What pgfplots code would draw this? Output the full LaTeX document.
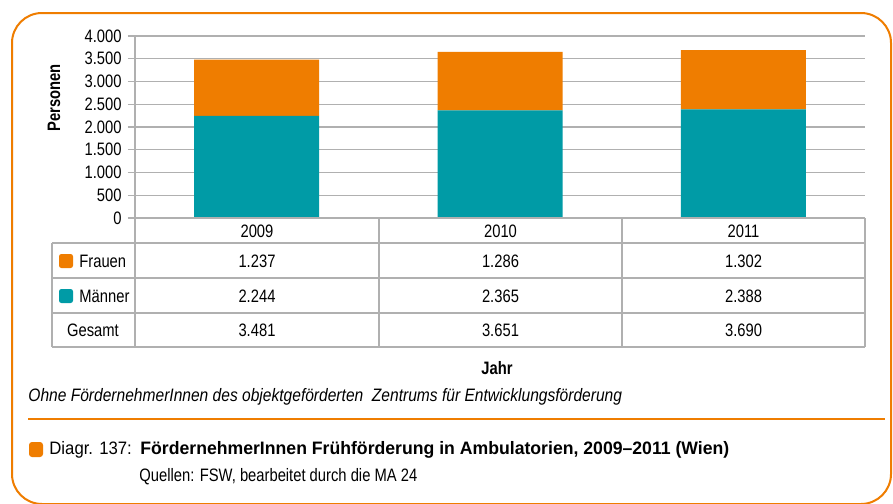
\documentclass[border=0pt]{standalone}
\usepackage{fontspec}
\setmainfont[FakeStretch=0.82,ItalicFeatures={FakeStretch=0.865}]{Liberation Sans}
\newfontfamily\titlefont[FakeStretch=0.98,Ligatures=TeX]{Liberation Sans}
\newfontfamily\diagfont[FakeStretch=0.93,Ligatures=TeX]{Liberation Sans}
\usepackage{pgfplots}
\pgfplotsset{compat=1.18}
\definecolor{orng}{RGB}{239,125,0}
\definecolor{teal2}{RGB}{0,155,166}
\definecolor{gridg}{RGB}{176,176,176}
\begin{document}
\fontsize{9}{10.5}\selectfont
\begin{tikzpicture}
\clip (0,0) rectangle (446.5pt,-251.5pt);
\fill[white] (0,0) rectangle (446.5pt,-251.5pt);
\begin{scope}[x=0.5pt,y=-0.5pt]
\draw[orng,line width=1pt,rounded corners=15pt] (12,13) rectangle (891,504);
\end{scope}
\begin{axis}[
  at={(67.5pt,-109pt)}, anchor=south west,
  scale only axis, width=365pt, height=91pt,
  xmin=-0.5, xmax=2.5, ymin=0, ymax=4000,
  ybar stacked, bar width=62.5pt,
  axis x line=bottom, axis y line=left,
  axis line style={draw=gridg,line width=0.6pt,-},
  xtick=\empty,
  ytick={0,500,...,4000},
  tick align=outside, major tick length=3.5pt,
  ytick style={draw=gridg,line width=0.6pt},
  ymajorgrids, grid style={draw=gridg,line width=0.6pt},
  /pgf/number format/.cd, 1000 sep={.}, assume math mode=true,
  /pgfplots/.cd,
  yticklabel style={font=\fontsize{9}{10}\selectfont},
  clip=false,
]
\addplot[fill=teal2,draw=none] coordinates {(0,2244) (1,2365) (2,2388)};
\addplot[fill=orng,draw=none] coordinates {(0,1237) (1,1286) (2,1302)};
\end{axis}
\begin{scope}[x=0.5pt,y=-0.5pt]
\node[rotate=90,font=\bfseries] at (54,98) {Personen};
% table lines
\begin{scope}[draw=gridg,line width=0.6pt]
\draw (135,218) -- (865,218);
\draw (52,243) -- (865,243);
\draw (52,278) -- (865,278);
\draw (52,313) -- (865,313);
\draw (52,347) -- (865,347);
\draw (52,243) -- (52,347);
\draw (135,218) -- (135,347);
\draw (379,218) -- (379,347);
\draw (622,218) -- (622,347);
\draw (865,218) -- (865,347);
\end{scope}
\node at (257,231) {2009};
\node at (500.5,231) {2010};
\node at (743.5,231) {2011};
\fill[orng,rounded corners=1.2pt] (59,254) rectangle (73,268);
\node[anchor=west,inner sep=0pt] at (79,261) {Frauen};
\fill[teal2,rounded corners=1.2pt] (59,289) rectangle (73,303);
\node[anchor=west,inner sep=0pt] at (79,296) {Männer};
\node at (93,330) {Gesamt};
\node at (257,261) {1.237};
\node at (500.5,261) {1.286};
\node at (743.5,261) {1.302};
\node at (257,296) {2.244};
\node at (500.5,296) {2.365};
\node at (743.5,296) {2.388};
\node at (257,330) {3.481};
\node at (500.5,330) {3.651};
\node at (743.5,330) {3.690};
\node[font=\bfseries] at (497,368) {Jahr};
\node[anchor=west,inner sep=0pt,font=\itshape] at (28,397) {Ohne FördernehmerInnen des objektgeförderten\ \ Zentrums für Entwicklungsförderung};
\draw[orng,line width=1pt] (28,419) -- (885,419);
\fill[orng,rounded corners=1.5pt] (29,442) rectangle (43,457);
\node[anchor=west,inner sep=0pt,font=\diagfont] at (49,450) {Diagr. 137:};
\node[anchor=west,inner sep=0pt,font=\titlefont\bfseries] at (140,450) {FördernehmerInnen Frühförderung in Ambulatorien, 2009–2011 (Wien)};
\node[anchor=west,inner sep=0pt] at (139,477) {Quellen: FSW, bearbeitet durch die MA 24};
\end{scope}
\end{tikzpicture}
\end{document}
